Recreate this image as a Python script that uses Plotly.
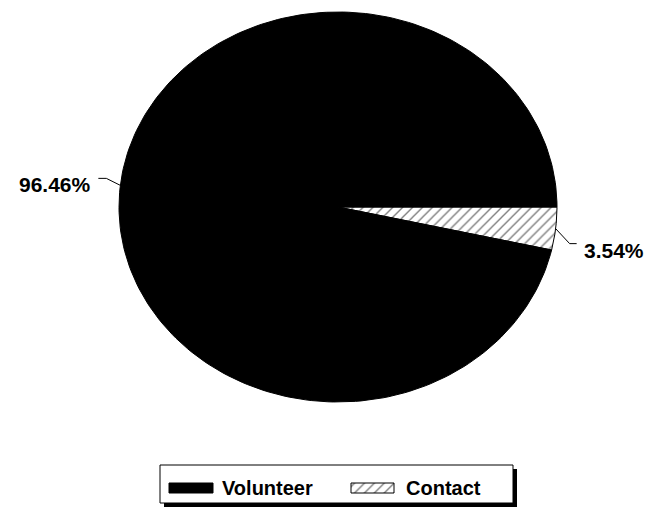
import numpy as np
import plotly.graph_objects as go

# ---- data ----
categories = ["Contact", "Volunteer"]
values = [3.54, 96.46]
label_texts = ["3.54%", "96.46%"]

# ---- styles / layout ----
W, H = 652, 507
OFF = 8  # page body margin
CX, CY, RX, RY = 338, 207, 219, 195
FONT = "Liberation Sans, Arial, sans-serif"
HATCH = dict(shape="/", fgcolor="black", bgcolor="white", size=7, solidity=0.2)

fig = go.Figure()

total = sum(values)
start = 0.0
mids = []
for cat, v in zip(categories, values):
    span = 2 * np.pi * v / total
    th = np.linspace(start, start + span, 240)
    xs = np.concatenate([[CX], CX + RX * np.cos(th), [CX]])
    ys = np.concatenate([[CY], CY + RY * np.sin(th), [CY]])
    tr = dict(x=xs, y=ys, mode="lines", fill="toself",
              line=dict(color="black", width=1), hoverinfo="skip",
              showlegend=False, name=cat)
    if cat == "Contact":
        tr["fillcolor"] = "white"
        tr["fillpattern"] = HATCH
    else:
        tr["fillcolor"] = "black"
    fig.add_trace(go.Scatter(**tr))
    mids.append(start + span / 2)
    start += span

# leader lines and labels
for cat, mid, txt in zip(categories, mids, label_texts):
    px = CX + RX * np.cos(mid)
    py = CY + RY * np.sin(mid)
    if np.cos(mid) >= 0:
        ex, ey = px + 14, py + 15
        hx = ex + 7
        anchor = "left"
        tx = hx + 5
        ty = ey + 7
    else:
        ex, ey = px - 14, py - 7
        hx = ex - 8
        anchor = "right"
        tx = hx - 5
        ty = ey + 6
    fig.add_trace(go.Scatter(x=[px, ex, hx], y=[py, ey, ey], mode="lines",
                             line=dict(color="black", width=1),
                             hoverinfo="skip", showlegend=False))
    fig.add_annotation(x=tx, y=ty, text=txt, showarrow=False,
                       xanchor=anchor, yanchor="middle",
                       font=dict(family=FONT, size=21, color="black", weight="bold"))

# ---- legend (manual) ----
LX0, LY0, LX1, LY1 = 160, 465, 513, 503
fig.add_shape(type="rect", x0=LX0 + 4, y0=LY0 + 4, x1=LX1 + 4, y1=LY1 + 4,
              fillcolor="black", line=dict(width=0), layer="below")
fig.add_shape(type="rect", x0=LX0, y0=LY0, x1=LX1, y1=LY1,
              fillcolor="white", line=dict(color="black", width=1), layer="below")

legend_order = ["Volunteer", "Contact"]
sw_x = {"Volunteer": (169, 213), "Contact": (351, 394)}
tx_x = {"Volunteer": 220, "Contact": 404}
for cat in legend_order:
    x0, x1 = sw_x[cat]
    tr = dict(x=[x0, x1, x1, x0, x0], y=[483, 483, 493, 493, 483], mode="lines",
              fill="toself", line=dict(color="black", width=1),
              hoverinfo="skip", showlegend=False)
    if cat == "Contact":
        tr["fillcolor"] = "white"
        tr["fillpattern"] = HATCH
    else:
        tr["fillcolor"] = "black"
    fig.add_trace(go.Scatter(**tr))
    fig.add_annotation(x=tx_x[cat], y=487.5, text=cat, showarrow=False,
                       xanchor="left", yanchor="middle",
                       font=dict(family=FONT, size=20, color="black", weight="bold"))

fig.update_layout(
    width=W - OFF, height=H - OFF, margin=dict(l=0, r=0, t=0, b=0),
    paper_bgcolor="white", plot_bgcolor="white",
    xaxis=dict(range=[OFF, W], visible=False, fixedrange=True),
    yaxis=dict(range=[H, OFF], visible=False, fixedrange=True),
)

fig.write_html("out.html")
